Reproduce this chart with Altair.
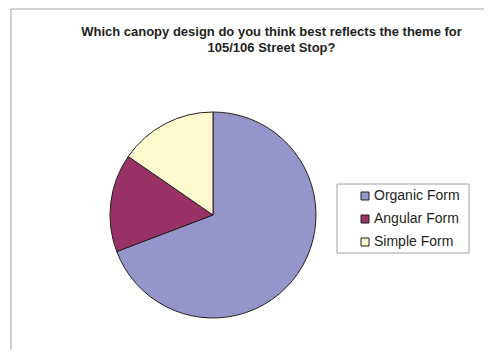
import altair as alt
import pandas as pd

categories = ["Organic Form", "Angular Form", "Simple Form"]
counts = [9, 2, 2]
colors = ["#9595C9", "#993366", "#FDF9CF"]
title_lines = ["Which canopy design do you think best reflects the theme for",
               "105/106 Street Stop?"]

df = pd.DataFrame({"design": categories, "count": counts, "order": list(range(len(categories)))})

pie = alt.Chart(df).mark_arc(
    x=202, y=206, outerRadius=103, stroke="#231F20", strokeWidth=1
).encode(
    theta=alt.Theta("count:Q", stack=True),
    order=alt.Order("order:Q"),
    color=alt.Color(
        "design:N",
        sort=categories,
        scale=alt.Scale(domain=categories, range=colors),
        legend=alt.Legend(
            title=None, orient="none", legendX=347, legendY=180,
            symbolType="square", symbolSize=64,
            symbolStrokeColor="#231F20", symbolStrokeWidth=1,
            labelFont="Liberation Sans", labelFontSize=14, labelColor="#231F20",
            labelOffset=2, rowPadding=9, padding=0,
        ),
    ),
)

box = alt.Chart(pd.DataFrame({"a": [0]})).mark_rect(
    fill="white", stroke="#A0A0A0", strokeWidth=1
).encode(x=alt.value(326), x2=alt.value(458), y=alt.value(175), y2=alt.value(244))

left_edge = alt.Chart(pd.DataFrame({"a": [0]})).mark_rule(color="#A0A0A0", strokeWidth=1).encode(
    x=alt.value(0), y=alt.value(0), y2=alt.value(341))
top_edge = alt.Chart(pd.DataFrame({"a": [0]})).mark_rule(color="#A0A0A0", strokeWidth=1).encode(
    x=alt.value(0), x2=alt.value(473), y=alt.value(0))

chart = alt.layer(box, left_edge, top_edge, pie).properties(
    width=473, height=341,
    padding={"left": 3, "top": 1, "right": 0, "bottom": 0},
    autosize=alt.AutoSizeParams(type="none"),
    background="white",
    title=alt.TitleParams(
        text=title_lines, font="Liberation Sans Narrow, Arial Narrow, Liberation Sans, sans-serif",
        fontSize=13, fontWeight="bold", color="#231F20",
        anchor="middle", frame="group", orient="top", baseline="top",
        offset=-46, dx=24, lineHeight=16,
    ),
).configure_view(fill="#ECEDF0", stroke=None)

chart.save("out.html", embed_options={"renderer": "svg", "actions": False})
